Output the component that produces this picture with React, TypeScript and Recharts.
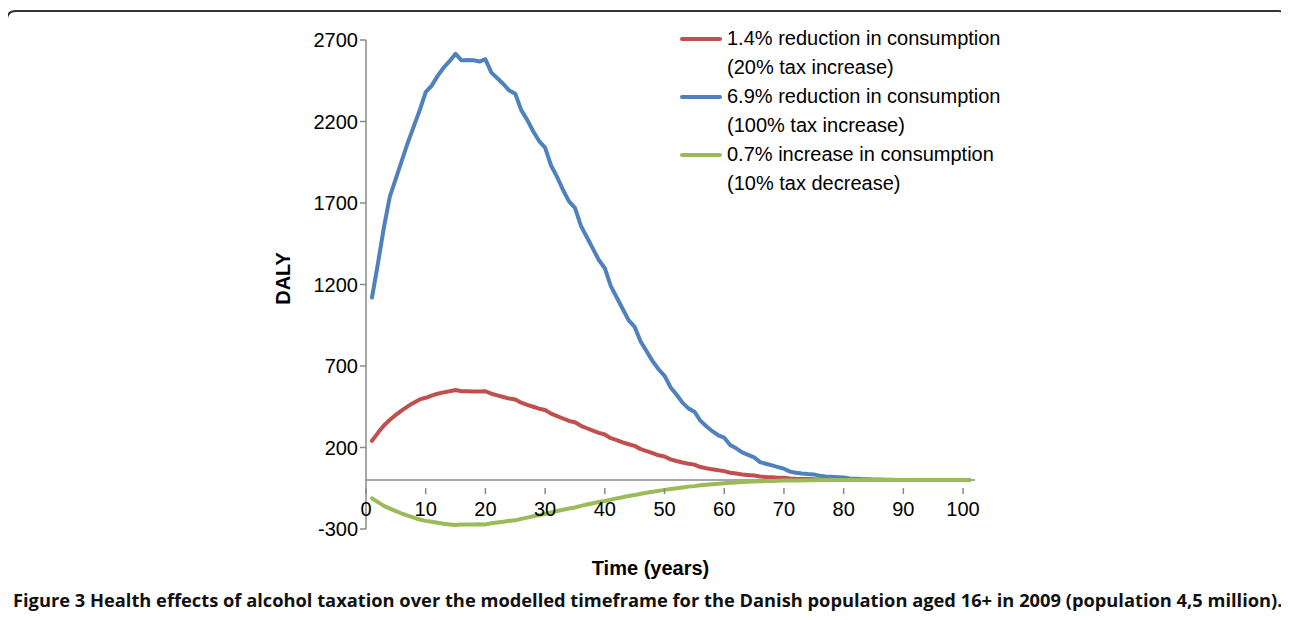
import { LineChart, Line, XAxis, YAxis, ReferenceLine } from 'recharts';

// years 1..101
const years: number[] = Array.from({ length: 101 }, (_, i) => i + 1);

const red: number[] = [
  241, 290, 335, 370, 400, 428, 452, 475, 495, 505,
  518, 530, 538, 545, 553, 545, 545, 544, 543, 545,
  530, 520, 510, 500, 495, 475, 462, 450, 438, 430,
  408, 393, 378, 363, 355, 333, 318, 303, 290, 280,
  257, 245, 232, 220, 210, 190, 178, 165, 152, 145,
  127, 117, 108, 100, 95, 80, 73, 66, 60, 55,
  45, 40, 35, 31, 28, 22, 19, 17, 15, 14,
  10, 8, 7, 6, 5, 4, 3, 2, 2, 1,
  0, 0, 0, 0, 0, 0, 0, 0, 0, 0,
  0, 0, 0, 0, 0, 0, 0, 0, 0, 0, 0,
];

const blue: number[] = [
  1120, 1330, 1550, 1740, 1850, 1960, 2070, 2170, 2270, 2380,
  2420, 2480, 2530, 2570, 2615, 2575, 2578, 2576, 2568, 2582,
  2500, 2465, 2430, 2390, 2370, 2270, 2210, 2140, 2080, 2040,
  1930, 1860, 1780, 1710, 1670, 1560, 1490, 1420, 1350, 1300,
  1190, 1120, 1050, 980, 940, 850, 790, 730, 680, 640,
  570, 525, 475, 440, 420, 365, 330, 300, 275, 260,
  215, 195, 170, 155, 140, 110, 100, 90, 80, 70,
  52, 45, 40, 37, 35, 26, 22, 20, 18, 16,
  10, 8, 6, 5, 4, 3, 2, 2, 1, 1,
  0, 0, 0, 0, 0, 0, 0, 0, 0, 0, 0,
];

const green: number[] = [
  -112, -135, -158, -175, -190, -205, -218, -230, -242, -250,
  -256, -262, -268, -272, -276, -273, -272, -272, -271, -272,
  -265, -260, -255, -250, -247, -238, -230, -222, -214, -208,
  -198, -190, -182, -174, -168, -158, -150, -142, -134, -128,
  -120, -112, -105, -97, -92, -84, -78, -72, -66, -60,
  -55, -50, -45, -40, -37, -32, -28, -25, -22, -19,
  -16, -14, -12, -10, -9, -7, -6, -5, -4, -3,
  -3, -2, -2, -1, -1, 0, 0, 0, 0, 0,
  0, 0, 0, 0, 0, 0, 0, 0, 0, 0,
  0, 0, 0, 0, 0, 0, 0, 0, 0, 0, 0,
];

const xTicks = [0, 10, 20, 30, 40, 50, 60, 70, 80, 90, 100];
const yTicks = [-300, 200, 700, 1200, 1700, 2200, 2700];

const seriesNames = [
  ['1.4% reduction in consumption', '(20% tax increase)'],
  ['6.9% reduction in consumption', '(100% tax increase)'],
  ['0.7% increase in consumption', '(10% tax decrease)'],
];
const COLORS = ['#C0504D', '#4F81BD', '#9BBB59'];

const data = years.map((t, i) => ({ t, red: red[i], blue: blue[i], green: green[i] }));

const FONT = '"Liberation Sans", Arial, sans-serif';
const W = 1273;
const H = 612;
const MARGIN = { top: 32, right: 306, bottom: 61, left: 258 };
const X_AXIS_H = 30;
const Y_MIN = -300;
const Y_MAX = 2700;
const PLOT_H = H - MARGIN.top - MARGIN.bottom - X_AXIS_H;
// the x axis sits on y = 0, not at the bottom of the plot
const ZERO_SHIFT = (PLOT_H * (0 - Y_MIN)) / (Y_MAX - Y_MIN);

function ZeroTick(props: any) {
  const { x, y, payload } = props;
  const y0 = y - ZERO_SHIFT;
  return (
    <g>
      <line x1={x} x2={x} y1={y0} y2={y0 + 6} stroke="#888" strokeWidth={1.5} />
      <text x={x} y={y0 + 28} textAnchor="middle" fontSize={20} fontFamily={FONT} fill="#000">
        {payload.value}
      </text>
    </g>
  );
}

function LegendBox() {
  return (
    <div
      style={{
        position: 'absolute',
        left: 672,
        top: 16,
        fontFamily: FONT,
        fontSize: 20,
        lineHeight: '29px',
        color: '#000',
      }}
    >
      {seriesNames.map((n, i) => (
        <div key={i} style={{ display: 'flex', alignItems: 'flex-start' }}>
          <div style={{ width: 42, height: 4, borderRadius: 2, background: COLORS[i], marginTop: 13, marginRight: 5 }} />
          <div>
            <div>{n[0]}</div>
            <div>{n[1]}</div>
          </div>
        </div>
      ))}
    </div>
  );
}

export default function App() {
  return (
    <div style={{ position: 'relative', width: W, height: H }}>
      <svg
        width={1289}
        height={620}
        style={{ position: 'absolute', left: -8, top: -8, pointerEvents: 'none' }}
      >
        <path
          d="M 7 640 L 7 20 Q 7 11 16 11 L 1278 11 Q 1287 11 1287 20 L 1287 640"
          fill="none"
          stroke="#333"
          strokeWidth={2}
        />
      </svg>
      <LineChart width={W} height={H} data={data} margin={MARGIN} style={{ position: 'absolute', left: 0, top: 0 }}>
        <XAxis
          dataKey="t"
          type="number"
          domain={[0, 102]}
          ticks={xTicks}
          height={X_AXIS_H}
          axisLine={false}
          tickLine={false}
          tick={<ZeroTick />}
          interval={0}
          label={{
            value: 'Time (years)',
            position: 'insideBottom',
            dx: -20,
            dy: 21,
            style: { fontFamily: FONT, fontSize: 20, fontWeight: 'bold', fill: '#000' },
          }}
        />
        <YAxis
          type="number"
          domain={[Y_MIN, Y_MAX]}
          ticks={yTicks}
          width={100}
          interval={0}
          axisLine={{ stroke: '#888', strokeWidth: 1.5 }}
          tickLine={{ stroke: '#888', strokeWidth: 1.5 }}
          tickSize={6}
          tick={{ fontSize: 20, fontFamily: FONT, fill: '#000' }}
          label={{
            value: 'DALY',
            angle: -90,
            position: 'insideLeft',
            offset: 17,
            dy: -6,
            style: { textAnchor: 'middle', fontFamily: FONT, fontSize: 20, fontWeight: 'bold', fill: '#000' },
          }}
        />
        <ReferenceLine y={0} stroke="#888" strokeWidth={1.5} />
        <Line dataKey="red" stroke={COLORS[0]} strokeWidth={4} dot={false} isAnimationActive={false} strokeLinejoin="round" strokeLinecap="round" />
        <Line dataKey="blue" stroke={COLORS[1]} strokeWidth={4} dot={false} isAnimationActive={false} strokeLinejoin="round" strokeLinecap="round" />
        <Line dataKey="green" stroke={COLORS[2]} strokeWidth={4} dot={false} isAnimationActive={false} strokeLinejoin="round" strokeLinecap="round" />
      </LineChart>
      <LegendBox />
      <div
        style={{
          position: 'absolute',
          left: 5,
          top: 579,
          fontFamily: '"Open Sans", sans-serif',
          fontSize: 18.3,
          fontWeight: 'bold',
          color: '#111',
          whiteSpace: 'nowrap',
        }}
      >
        Figure 3 Health effects of alcohol taxation over the modelled timeframe for the Danish population aged 16+ in 2009 (population 4,5 million).
      </div>
    </div>
  );
}
